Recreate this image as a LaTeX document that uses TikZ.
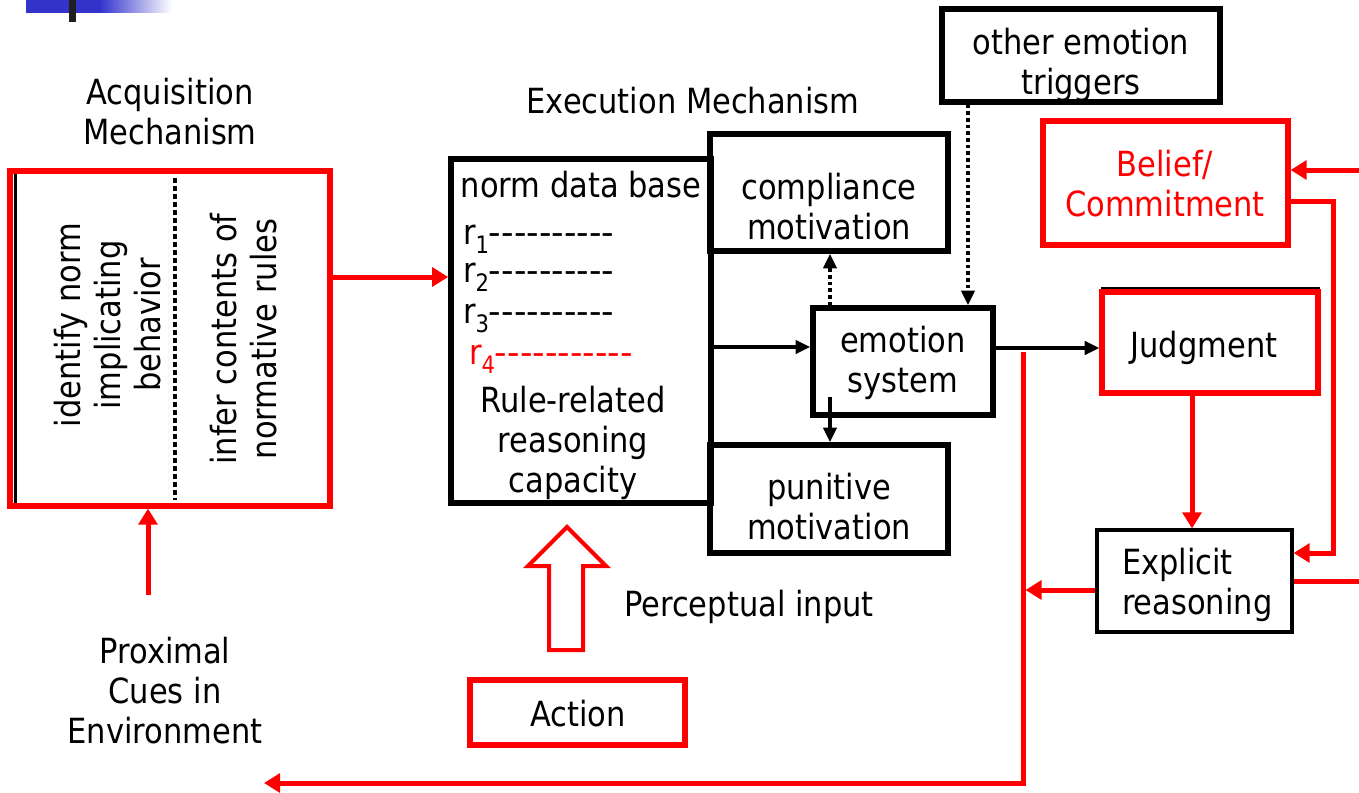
\documentclass[tikz,border=0pt]{standalone}
\usepackage{fontspec}
\setmainfont{DejaVu Sans}[FakeStretch=0.88]
\newfontfamily\plainf{DejaVu Sans}
\usetikzlibrary{arrows.meta,calc}
\definecolor{rd}{HTML}{FF0000}
\definecolor{bl}{HTML}{3333CC}
\newcommand\bx[6]{\node[#6, minimum width={(#4-#2)*0.75pt}, minimum height={(#5-#3)*0.75pt}] (#1) at ({(#2+#4)/2},{(#3+#5)/2}) {};}
\newcommand\dsh{-\kern0pt}
\newcommand\tendash{{\plainf\dsh\dsh\dsh\dsh\dsh\dsh\dsh\dsh\dsh\dsh}}
\newcommand\subn[1]{\raisebox{-7pt}{\fontsize{18}{18}\selectfont #1}}
\begin{document}
\begin{tikzpicture}[x=0.75pt,y=-0.75pt,
  txt/.style={font=\fontsize{26}{30}\selectfont, align=center, inner sep=0pt, outer sep=0pt},
  kbox/.style={draw=black, line width=4.2pt, inner sep=0pt},
  rbox/.style={draw=rd, line width=3.9pt, inner sep=0pt},
  blk/.style={draw=black, line width=2.4pt, -{Triangle[length=11pt,width=10pt]}},
  dotar/.style={draw=black, line width=2.6pt, dash pattern=on 2.6pt off 2.4pt, -{Triangle[length=11pt,width=10pt]}},
  redln/.style={draw=rd, line width=3.75pt},
  redar/.style={redln, -{Triangle[length=12pt,width=14pt]}}]
\useasboundingbox (0,0) rectangle (1359,792);

% header bar
\fill[bl] (26,0) rectangle (100,13);
\shade[left color=bl, right color=white] (99.5,0) rectangle (172,13);
\fill[black!88] (69,0) rectangle (76,22);

% titles
\node[txt] (acqt) at (170,112) {Acquisition\\Mechanism};
\node[txt] (exet) at (693,101) {Execution Mechanism};

% acquisition box
\bx{acq}{10}{171}{330}{506}{rbox}
\draw[line width=2.5pt] (15.5,174) -- (15.5,503);
\draw[line width=3.6pt, dash pattern=on 3.6pt off 2.4pt] (175,178) -- (175,500);
\node[txt, rotate=90] (idt) at (108,325) {identify norm\\implicating\\behavior};
\node[txt, rotate=90] (inft) at (244,339) {infer contents of\\normative rules};

\node[txt] (prox) at (165,691) {Proximal\\Cues in\\Environment};
\coordinate (proxtop) at (148,595);

% norm data base
\bx{ndb}{451}{159}{711}{503}{kbox}
\node[txt, anchor=base] (ndbt) at (581,197) {norm data base};
\node[txt, anchor=base west] (r1) at (463,244) {r\subn{1}\tendash};
\node[txt, anchor=base west] (r2) at (463,282) {r\subn{2}\tendash};
\node[txt, anchor=base west] (r3) at (463,323) {r\subn{3}\tendash};
\node[txt, anchor=base west, text=rd] (r4) at (469,364) {r\subn{4}\tendash{\plainf\dsh}};
\node[txt] (rrt) at (573,443) {Rule-related\\reasoning\\capacity};

% motivation boxes
\bx{comp}{710}{134}{948}{251}{kbox}
\node[txt] (compt) at (829,207) {compliance\\motivation};
\bx{pun}{710}{445}{948}{553}{kbox}
\node[txt] (punt) at (829,507) {punitive\\motivation};
\bx{emo}{813}{308}{993}{415}{kbox}
\node[txt] (emot) at (903,363) {emotion\\system};
\bx{oet}{942}{9}{1220}{102}{kbox}
\node[txt] (oett) at (1081,65) {other emotion\\triggers};

% right side
\bx{bel}{1043}{121}{1288}{245}{rbox}
\node[txt, text=rd] (belt) at (1165,184) {Belief/\\Commitment};
\draw[line width=1.6pt] (1100.5,288.5) -- (1320,288.5);
\bx{jud}{1102}{292}{1318}{393}{rbox}
\node[txt] (judt) at (1204,348) {Judgment};
\bx{expl}{1097}{530}{1292}{632}{draw=black, line width=2.4pt, inner sep=0pt}
\node[txt, align=left, anchor=west] (explt) at (1122,585) {Explicit\\reasoning};

% action
\bx{act}{470}{680}{685}{745}{rbox}
\node[txt] (actt) at (578,714) {Action};
\node[txt] (perc) at (749,607) {Perceptual input};
\draw[draw=rd, line width=3pt, fill=white] (567,527) -- (606,566) -- (583,566) -- (583,650) -- (549,650) -- (549,566) -- (528,566) -- cycle;

% connectors
\draw[redar] (acq.east |- 0,277) -- (ndb.west |- 0,277);
\draw[redar] (proxtop) -- (acq.south -| proxtop);
\draw[blk] (ndb.east |- 0,347) -- (emo.west |- 0,347);
\draw[dotar] (emo.north -| 830,0) -- (comp.south -| 830,0);
\coordinate (emoin) at (830,397);
\draw[blk] (emoin) -- (pun.north -| emoin);
\draw[dotar] (oet.south -| 968,0) -- (emo.north -| 968,0);
\draw[blk] (emo.east |- 0,348) -- (jud.west |- 0,348);
\draw[redar] (jud.south -| 1192,0) -- (expl.north -| 1192,0);
\coordinate (rin) at (1359,170);
\draw[redar] (rin) -- (bel.east |- rin);
\draw[redar] (bel.east |- 0,201) -| (1333,553) -- (expl.east |- 0,553);
\coordinate (rout) at (1359,581);
\draw[redln] (expl.east |- rout) -- (rout);
\coordinate (vtop) at (1023,352);
\coordinate (vbot) at (1023,783);
\coordinate (lend) at (264,783);
\coordinate (vmid) at (1025.5,590);
\draw[redar] (expl.west |- vmid) -- (vmid);
\draw[redar] (vtop) -- (vbot) -- (lend);
\end{tikzpicture}
\end{document}
